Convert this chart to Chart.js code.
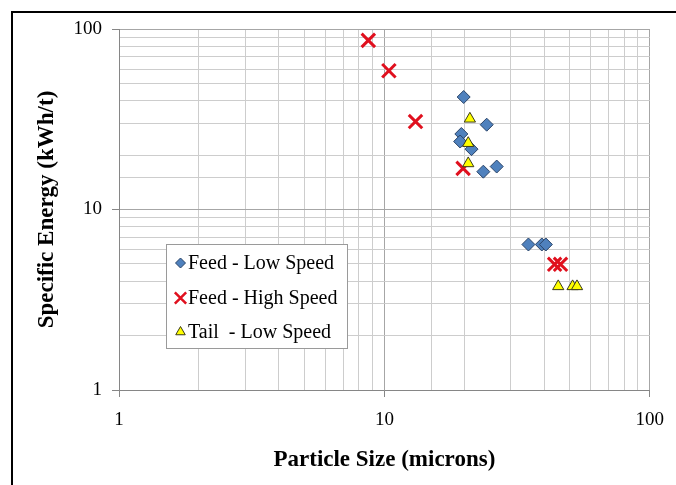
<!DOCTYPE html>
<html>
<head>
<meta charset="utf-8">
<script src="https://cdn.jsdelivr.net/npm/chart.js@4/dist/chart.umd.min.js"></script>
<style>
  html, body { margin: 0; padding: 0; background: #fff; }
  #wrap { position: relative; width: 676px; height: 485px; overflow: hidden; }
  #frame { position: absolute; left: 11px; top: 11px; right: -10px; bottom: -10px;
           border-top: 2px solid #000; border-left: 2px solid #000; }
  canvas { position: absolute; left: 0; top: 0; }
</style>
</head>
<body>
<div id="wrap">
  <div id="frame"></div>
  <canvas id="chart" width="676" height="485"></canvas>
</div>
<script>
// values (log-log axes)
const feedLowSize = [19.9, 24.3, 19.5, 19.3, 21.3, 23.6, 26.5, 34.9, 39.2, 40.6];
const feedLowEnergy = [42.0, 29.5, 26.2, 23.8, 21.6, 16.2, 17.3, 6.4, 6.4, 6.4];

const feedHighSize = [8.7, 10.4, 13.1, 19.8, 43.8, 46.1];
const feedHighEnergy = [86.5, 58.7, 30.7, 16.9, 4.97, 4.97];

const tailLowSize = [21.0, 20.7, 20.7, 45.2, 51.2, 53.2];
const tailLowEnergy = [31.8, 23.3, 18.0, 3.75, 3.75, 3.75];

const seriesLabels = ["Feed - Low Speed", "Feed - High Speed", "Tail  - Low Speed"];
const tickLabels = ["1", "10", "100"];

const SERIF = "'Liberation Serif', 'Times New Roman', serif";

function toPoints(xs, ys) {
  return xs.map((x, i) => ({ x: x, y: ys[i] }));
}

function isDecade(v) {
  const l = Math.log10(v);
  return Math.abs(l - Math.round(l)) < 1e-9;
}

function gridColor(ctx) {
  return ctx.tick && isDecade(ctx.tick.value) ? "#a6a6a6" : "#cdcdcd";
}
function tickMarkColor(ctx) {
  return ctx.tick && isDecade(ctx.tick.value) ? "#868686" : "rgba(0,0,0,0)";
}
function decadeLabel(value) {
  const s = String(Math.round(value));
  return isDecade(value) && tickLabels.includes(s) ? s : "";
}

// legend drawn inside the plot, as in the Excel original
const insideLegend = {
  id: "insideLegend",
  afterDraw(chart) {
    const ctx = chart.ctx;
    const box = { x: 166.5, y: 244.5, w: 181, h: 104 };
    const rows = [263, 298, 332];
    ctx.save();
    ctx.fillStyle = "#fff";
    ctx.strokeStyle = "#9a9a9a";
    ctx.lineWidth = 1;
    ctx.fillRect(box.x, box.y, box.w, box.h);
    ctx.strokeRect(box.x, box.y, box.w, box.h);
    chart.data.datasets.forEach((ds, i) => {
      const y = rows[i];
      ctx.fillStyle = ds.backgroundColor;
      ctx.strokeStyle = ds.borderColor;
      ctx.lineWidth = ds.legendBorderWidth;
      Chart.helpers.drawPoint(ctx, { pointStyle: ds.pointStyle, radius: ds.legendRadius, rotation: 0, borderWidth: ds.legendBorderWidth }, 180.5, y);
      ctx.fillStyle = "#000";
      ctx.font = "20px " + SERIF;
      ctx.textBaseline = "middle";
      ctx.textAlign = "left";
      ctx.fillText(seriesLabels[i], 188, y + 1);
    });
    ctx.restore();
  }
};

new Chart(document.getElementById("chart"), {
  type: "scatter",
  data: {
    datasets: [
      {
        label: seriesLabels[0],
        data: toPoints(feedLowSize, feedLowEnergy),
        pointStyle: "rectRot",
        pointRadius: 6.5,
        backgroundColor: "#4f81bd",
        borderColor: "#2a4468",
        borderWidth: 1,
        legendRadius: 5,
        legendBorderWidth: 1,
        order: 2
      },
      {
        label: seriesLabels[1],
        data: toPoints(feedHighSize, feedHighEnergy),
        pointStyle: "crossRot",
        pointRadius: 9.5,
        backgroundColor: "#e0101e",
        borderColor: "#e0101e",
        borderWidth: 3,
        legendRadius: 8,
        legendBorderWidth: 2.5,
        order: 1
      },
      {
        label: seriesLabels[2],
        data: toPoints(tailLowSize, tailLowEnergy),
        pointStyle: "triangle",
        pointRadius: 6.5,
        backgroundColor: "#ffff00",
        borderColor: "#3a3a1a",
        borderWidth: 1,
        legendRadius: 5.5,
        legendBorderWidth: 1,
        order: 0
      }
    ]
  },
  options: {
    responsive: false,
    animation: false,
    layout: { padding: { left: 24, top: 29, right: 25, bottom: 11 } },
    plugins: {
      legend: { display: false },
      tooltip: { enabled: false }
    },
    scales: {
      x: {
        type: "logarithmic",
        min: 1,
        max: 100,
        afterFit(scale) { scale.height = 84; },
        border: { color: "#868686", width: 1 },
        grid: { color: gridColor, tickColor: tickMarkColor, tickLength: 7, lineWidth: 1 },
        ticks: {
          autoSkip: false,
          maxRotation: 0,
          padding: 12,
          color: "#000",
          font: { family: SERIF, size: 19 },
          callback: decadeLabel
        },
        title: {
          display: true,
          text: "Particle Size (microns)",
          color: "#000",
          font: { family: SERIF, size: 23, weight: "bold" },
          padding: { top: 0, bottom: 0 }
        }
      },
      y: {
        type: "logarithmic",
        min: 1,
        max: 100,
        afterFit(scale) { scale.width = 95; },
        border: { color: "#868686", width: 1 },
        grid: { color: gridColor, tickColor: tickMarkColor, tickLength: 7, lineWidth: 1 },
        ticks: {
          autoSkip: false,
          padding: 10,
          color: "#000",
          font: { family: SERIF, size: 19 },
          callback: decadeLabel
        },
        title: {
          display: true,
          text: "Specific Energy (kWh/t)",
          color: "#000",
          font: { family: SERIF, size: 23, weight: "bold" },
          padding: { top: 9, bottom: 0 }
        }
      }
    }
  },
  plugins: [insideLegend]
});
</script>
</body>
</html>
